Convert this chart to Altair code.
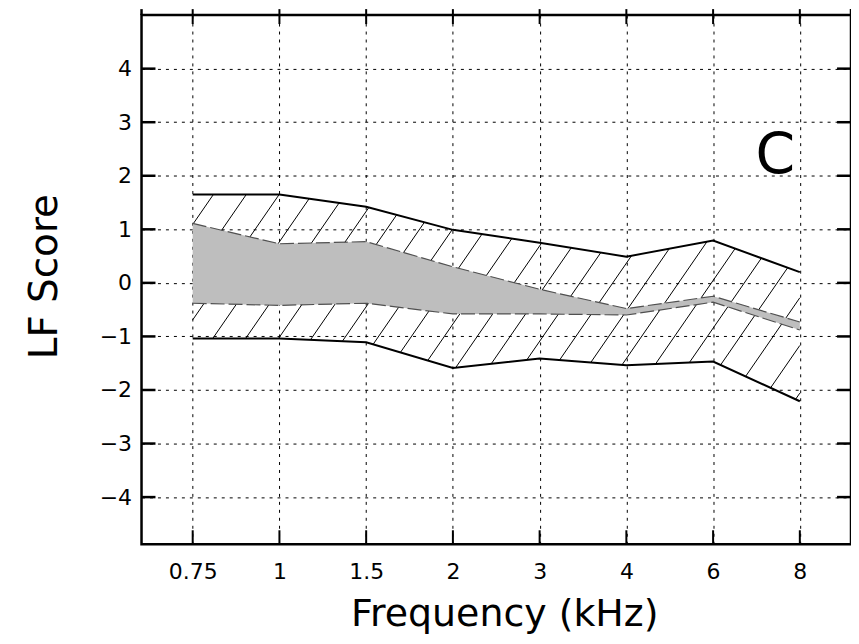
import json
import numpy as np
import pandas as pd
import altair as alt

# ---------------- data ----------------
freq_labels = ["0.75", "1", "1.5", "2", "3", "4", "6", "8"]
outer_upper = [1.65, 1.65, 1.42, 0.99, 0.75, 0.49, 0.79, 0.20]
outer_lower = [-1.04, -1.04, -1.11, -1.59, -1.41, -1.54, -1.47, -2.21]
inner_upper = [1.11, 0.73, 0.77, 0.30, -0.12, -0.48, -0.25, -0.73]
inner_lower = [-0.38, -0.42, -0.38, -0.58, -0.58, -0.60, -0.36, -0.88]
y_ticks = [-4, -3, -2, -1, 0, 1, 2, 3, 4]
panel_label = "C"
x_title = "Frequency (kHz)"
y_title = "LF Score"

# ---------------- layout ----------------
W, H = 712, 531
X_DOMAIN = [-0.59, 7.59]
Y_DOMAIN = [-4.88, 5.0]
FONT = "DejaVu Sans"

idx = list(range(len(freq_labels)))
df = pd.DataFrame({
    "idx": idx, "freq": freq_labels,
    "ou": outer_upper, "ol": outer_lower,
    "iu": inner_upper, "il": inner_lower,
})

# ---------------- hatch lines clipped to the outer band ----------------
px_per_x = W / (X_DOMAIN[1] - X_DOMAIN[0])
px_per_y = H / (Y_DOMAIN[1] - Y_DOMAIN[0])
hatch_px_slope = 1.45
hatch_px_spacing = 33.0
s = hatch_px_slope * px_per_x / px_per_y
sp = hatch_px_spacing / px_per_x
c0 = -0.085
xs = np.array(idx, dtype=float)


def cross(curve, c):
    f = lambda x: s * (x - c) - np.interp(x, xs, curve)
    lo, hi = xs[0], xs[-1]
    if f(lo) >= 0:
        return lo
    if f(hi) <= 0:
        return hi
    for _ in range(60):
        mid = 0.5 * (lo + hi)
        if f(mid) > 0:
            hi = mid
        else:
            lo = mid
    return 0.5 * (lo + hi)


rows = []
for k in range(-10, 40):
    c = c0 + k * sp
    xa = cross(outer_lower, c)
    xb = cross(outer_upper, c)
    if xb - xa > 1e-6:
        rows.append({"idx": xa, "val": s * (xa - c), "idx2": xb, "val2": s * (xb - c)})
hatch = pd.DataFrame(rows)

xscale = alt.Scale(domain=X_DOMAIN, nice=False, zero=False)
yscale = alt.Scale(domain=Y_DOMAIN, nice=False, zero=False)

x_axis = alt.Axis(
    values=idx,
    labelExpr=f"{json.dumps(freq_labels)}[round(datum.value)]",
    grid=True, gridColor="black", gridDash=[3, 5], gridWidth=1, gridOpacity=1,
    ticks=False, tickSize=0, domain=False,
    labelFont=FONT, labelFontSize=22, labelColor="black",
    labelBaseline="alphabetic", labelPadding=34, labelAlign="center",
    labelFlush=False, labelOverlap=False,
    title=x_title, titleFont=FONT, titleFontSize=38, titleFontWeight="normal",
    titleColor="black", titleX=364, titleY=82, titleBaseline="alphabetic",
    titleAlign="center",
)
y_axis = alt.Axis(
    values=y_ticks,
    grid=True, gridColor="black", gridDash=[3, 5], gridWidth=1, gridOpacity=1,
    ticks=False, tickSize=0, domain=False,
    labelFont=FONT, labelFontSize=22, labelColor="black",
    labelBaseline="middle", labelPadding=10, labelFlush=False, labelOverlap=False,
    title=y_title, titleFont=FONT, titleFontSize=39, titleFontWeight="normal",
    titleColor="black", titleAngle=270, titleX=-85, titleY=262,
    titleBaseline="alphabetic", titleAlign="center",
)


def X(field="idx"):
    return alt.X(f"{field}:Q", scale=xscale, axis=x_axis, title=x_title)


def Y(field):
    return alt.Y(f"{field}:Q", scale=yscale, axis=y_axis, title=y_title)


hatch_layer = alt.Chart(hatch).mark_rule(color="black", strokeWidth=1).encode(
    x=X("idx"), x2="idx2:Q", y=Y("val"), y2="val2:Q",
)

base = alt.Chart(df)
gray_band = base.mark_area(color="#bebebe", opacity=1).encode(
    x=X(), y=Y("iu"), y2="il:Q"
)
dash_up = base.mark_line(color="#505050", strokeWidth=1.2, strokeDash=[14, 4]).encode(
    x=X(), y=Y("iu")
)
dash_lo = base.mark_line(color="#505050", strokeWidth=1.2, strokeDash=[14, 4]).encode(
    x=X(), y=Y("il")
)
solid_up = base.mark_line(color="black", strokeWidth=2).encode(x=X(), y=Y("ou"))
solid_lo = base.mark_line(color="black", strokeWidth=2).encode(x=X(), y=Y("ol"))

# tick marks (inward on bottom/left/right, crossing on top)
xt = pd.DataFrame({"idx": idx})
yt = pd.DataFrame({"val": y_ticks})
tick_bottom = alt.Chart(xt).mark_rule(color="black", strokeWidth=2).encode(
    x=X(), y=alt.value(H - 14), y2=alt.value(H)
)
tick_top = alt.Chart(xt).mark_rule(color="black", strokeWidth=2).encode(
    x=X(), y=alt.value(-6), y2=alt.value(9)
)
tick_left = alt.Chart(yt).mark_rule(color="black", strokeWidth=2.5).encode(
    y=Y("val"), x=alt.value(0), x2=alt.value(14)
)
tick_right = alt.Chart(yt).mark_rule(color="black", strokeWidth=2.5).encode(
    y=Y("val"), x=alt.value(W - 14), x2=alt.value(W)
)
one = pd.DataFrame({"t": [panel_label]})
ext_left = alt.Chart(one).mark_rule(color="black", strokeWidth=2.5).encode(
    x=alt.value(0), y=alt.value(-6), y2=alt.value(0)
)
ext_right = alt.Chart(one).mark_rule(color="black", strokeWidth=2.5).encode(
    x=alt.value(W), y=alt.value(-6), y2=alt.value(0)
)

label = alt.Chart(one).mark_text(
    font=FONT, fontSize=57, color="black", align="center", baseline="middle"
).encode(text="t:N", x=alt.value(636), y=alt.value(142))

chart = alt.layer(
    hatch_layer, gray_band, dash_up, dash_lo, solid_up, solid_lo,
    tick_bottom, tick_top, tick_left, tick_right, ext_left, ext_right, label,
).properties(
    width=W, height=H,
    autosize=alt.AutoSizeParams(type="none"),
    padding={"left": 134, "top": 6, "right": 0, "bottom": 97},
    background="white",
).configure_view(stroke="black", strokeWidth=2.5)

chart.save("out.html", embed_options={"renderer": "svg", "actions": False})
